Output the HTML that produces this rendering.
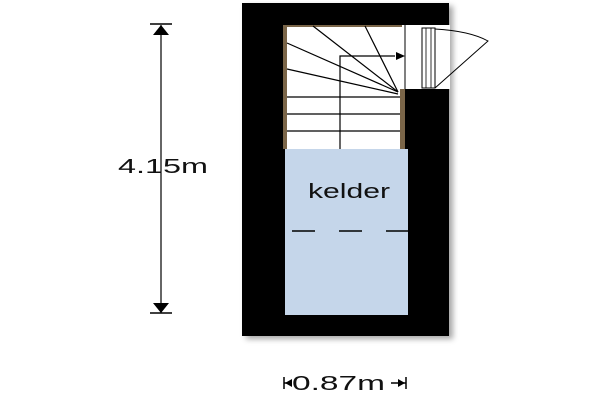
<!DOCTYPE html>
<html><head><style>body{margin:0;background:#fff;width:600px;height:400px;overflow:hidden}</style></head><body>
<svg width="600" height="400" viewBox="0 0 600 400" xmlns="http://www.w3.org/2000/svg" font-family="Liberation Sans, sans-serif">
<defs><filter id="sh" x="-10%" y="-10%" width="130%" height="130%"><feDropShadow dx="4" dy="3" stdDeviation="3" flood-opacity="0.35"/></filter></defs>
<rect x="242" y="3" width="207" height="333" fill="#000" filter="url(#sh)"/>
<rect x="283" y="25" width="122" height="124" fill="#fff"/>
<rect x="405" y="25" width="45" height="64" fill="#fff"/>
<rect x="285" y="149" width="123" height="166" fill="#c5d6ea"/>
<rect x="283" y="25" width="4" height="124" fill="#7a6548"/>
<rect x="287" y="25" width="115" height="2" fill="#7a6548"/>
<rect x="400" y="89" width="5" height="60" fill="#7a6548"/>
<line x1="405" y1="25" x2="405" y2="89" stroke="#000" stroke-width="1"/>
<g stroke="#000" stroke-width="1.2">
<line x1="313" y1="26" x2="398" y2="92"/>
<line x1="365" y1="26" x2="398" y2="92"/>
<line x1="287" y1="43" x2="398" y2="92"/>
<line x1="287" y1="69" x2="398" y2="94"/>
<line x1="287" y1="97" x2="400" y2="97"/>
<line x1="287" y1="114" x2="400" y2="114"/>
<line x1="287" y1="131" x2="400" y2="131"/>
<polyline points="340,149 340,56 395,56" fill="none"/>
</g>
<polygon points="405,56 396,52 396,60" fill="#000"/>
<rect x="422" y="28" width="13" height="60" fill="#fff" stroke="#000" stroke-width="1"/>
<line x1="426" y1="28" x2="426" y2="88" stroke="#000" stroke-width="0.8"/>
<line x1="431" y1="28" x2="431" y2="88" stroke="#000" stroke-width="0.8"/>
<path d="M435,29 Q470,31 488,41 L435,88" fill="none" stroke="#000" stroke-width="1"/>
<g stroke="#000" stroke-width="1.5">
<line x1="292" y1="231" x2="315" y2="231"/>
<line x1="339" y1="231" x2="362" y2="231"/>
<line x1="386" y1="231" x2="408" y2="231"/>
</g>
<text x="308" y="198" font-size="20" textLength="82" lengthAdjust="spacingAndGlyphs" fill="#111">kelder</text>
<line x1="161" y1="25" x2="161" y2="313" stroke="#000" stroke-width="1.2"/>
<line x1="150" y1="24" x2="172" y2="24" stroke="#000" stroke-width="1.5"/>
<polygon points="161,25 153,35 169,35" fill="#000"/>
<line x1="150" y1="313" x2="172" y2="313" stroke="#000" stroke-width="1.5"/>
<polygon points="161,313 153,303 169,303" fill="#000"/>
<text x="118" y="173" font-size="20" textLength="90" lengthAdjust="spacingAndGlyphs" fill="#111">4.15m</text>
<text x="292" y="390" font-size="20" textLength="93" lengthAdjust="spacingAndGlyphs" fill="#111">0.87m</text>
<g stroke="#000" stroke-width="1.5"><line x1="284" y1="377" x2="284" y2="389"/><line x1="284" y1="383" x2="291" y2="383"/><line x1="406" y1="377" x2="406" y2="389"/><line x1="391" y1="383" x2="406" y2="383"/></g>
<polygon points="285,383 292,379 292,387" fill="#000"/>
<polygon points="405,383 398,379 398,387" fill="#000"/>
</svg>
</body></html>
